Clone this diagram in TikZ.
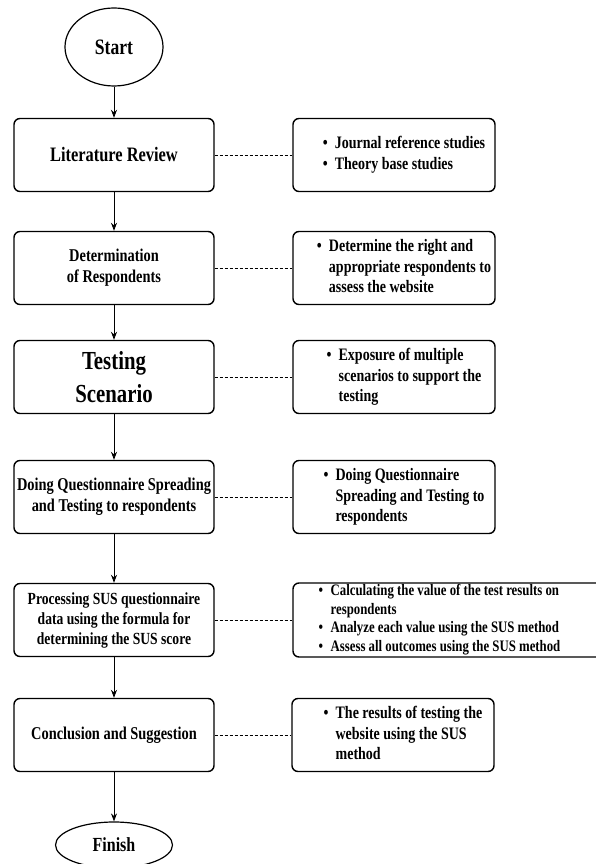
\documentclass[tikz,border=0pt]{standalone}
\usepackage{fontspec}
\setmainfont{Liberation Serif}[FakeStretch=0.8]
\usetikzlibrary{arrows.meta, shapes.geometric, calc, positioning}

\newcommand{\bulletlist}[2][20pt]{\begin{tabular}{@{\hspace{#1}}p{12pt}@{}l@{}}#2\end{tabular}}

\tikzset{
  stage/.style={draw, rounded corners=6pt, line width=1.4pt, minimum width=200pt, minimum height=73pt, inner sep=0pt, align=center, font=\bfseries\fontsize{18}{21}\selectfont},
  detail/.style={draw, rounded corners=6pt, line width=1.4pt, minimum width=202pt, minimum height=73pt, inner sep=0pt, font=\bfseries\fontsize{17.5}{20.5}\selectfont},
  terminal/.style={draw, ellipse, line width=1.2pt, inner sep=0pt, font=\bfseries\fontsize{22}{26}\selectfont},
  flow/.style={-{Stealth[length=8pt,width=6pt]}, line width=0.8pt},
  link/.style={dash pattern=on 3pt off 2pt, line width=0.6pt}
}

\begin{document}
\begin{tikzpicture}[x=1pt, y=-1pt]
    \useasboundingbox (0, 0) rectangle (595, 864);

    \node[terminal, minimum width=98pt, minimum height=78pt] (start) at (114, 47) {Start};

    \node[stage, font=\bfseries\fontsize{20.5}{24}\selectfont] (lit) at (114, 155) {Literature Review};
    \node[stage] (resp) at (114, 268) {Determination\\of Respondents};
    \node[stage, font=\bfseries\fontsize{26}{33}\selectfont] (scen) at (114, 377) {Testing\\Scenario};
    \node[stage] (quest) at (114, 497) {Doing Questionnaire Spreading\\and Testing to respondents};
    \node[stage, font=\bfseries\fontsize{17}{20}\selectfont] (sus) at (114, 620) {Processing SUS questionnaire\\data using the formula for\\determining the SUS score};
    \node[stage] (concl) at (114, 735) {Conclusion and Suggestion};

    \node[terminal, minimum width=117pt, minimum height=46pt, font=\bfseries\fontsize{20}{24}\selectfont] (finish) at (114, 845) {Finish};

    % details on the right
    \node[detail] (litnote) at (394, 155) {\bulletlist{\textbullet & Journal reference studies\\ \textbullet & Theory base studies}};
    \node[detail] (respnote) at (394, 268) {\bulletlist{\textbullet & Determine the right and\\ & appropriate respondents to\\ & assess the website}};
    \node[detail] (scennote) at (394, 377) {\bulletlist{\textbullet & Exposure of multiple\\ & scenarios to support the\\ & testing}};
    \node[detail] (questnote) at (394, 497) {\bulletlist{\textbullet & Doing Questionnaire\\ & Spreading and Testing to\\ & respondents}};
    \node[detail, minimum width=330pt, font=\bfseries\fontsize{16}{18.5}\selectfont] (susnote) at (458, 620) {\bulletlist[-37pt]{\textbullet & Calculating the value of the test results on\\ & respondents\\ \textbullet & Analyze each value using the SUS method\\ \textbullet & Assess all outcomes using the SUS method}};
    \node[detail] (conclnote) at (393, 735) {\bulletlist{\textbullet & The results of testing the\\ & website using the SUS\\ & method}};

    \draw
    (start) edge[flow] (lit)
    (lit) edge[flow] (resp)
    (resp) edge[flow] (scen)
    (scen) edge[flow] (quest)
    (quest) edge[flow] (sus)
    (sus) edge[flow] (concl)
    (concl) edge[flow] (finish);

    \draw
    (lit) edge[link] (litnote)
    (resp) edge[link] (respnote)
    (scen) edge[link] (scennote)
    (quest) edge[link] (questnote)
    (sus) edge[link] (susnote)
    (concl) edge[link] (conclnote);
\end{tikzpicture}
\end{document}
